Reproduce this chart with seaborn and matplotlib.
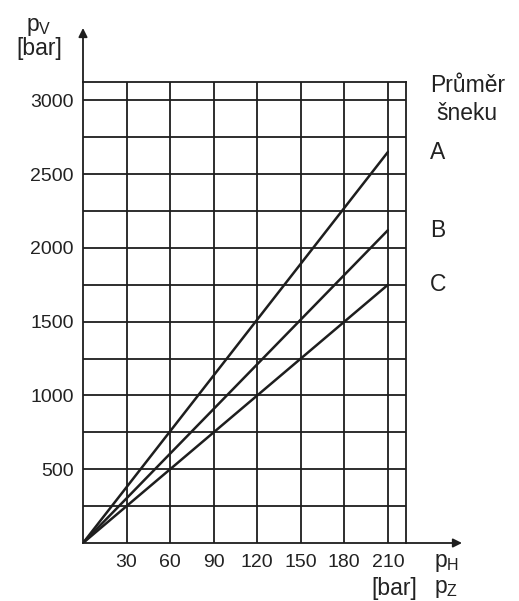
import matplotlib
matplotlib.use("Agg")
import matplotlib.pyplot as plt
import pandas as pd
import seaborn as sns

# Injection pressure p_V versus hydraulic pressure p_H for three screw diameters
p_h = [0, 210]
curve_a = [0, 2650]
curve_b = [0, 2120]
curve_c = [0, 1750]
screw_names = ["A", "B", "C"]

x_ticks = [30, 60, 90, 120, 150, 180, 210]
y_grid = [250, 500, 750, 1000, 1250, 1500, 1750, 2000, 2250, 2500, 2750, 3000]
y_labels = ["", "500", "", "1000", "", "1500", "", "2000", "", "2500", "", "3000"]

sns.set_style("white")
plt.rcParams["font.family"] = ["Liberation Sans", "DejaVu Sans"]
plt.rcParams["mathtext.fontset"] = "custom"
plt.rcParams["mathtext.rm"] = "Liberation Sans"

W, H = 519, 601
fig = plt.figure(figsize=(W / 100, H / 100), dpi=100)

# axes frame in pixel terms
x0, x1, y0, y1 = 83, 406, 543, 82
ax = fig.add_axes([x0 / W, 1 - y0 / H, (x1 - x0) / W, (y0 - y1) / H])

ink = "#1e1e1e"
df = pd.DataFrame({
    "p_H": p_h * 3,
    "p_V": curve_a + curve_b + curve_c,
    "screw": [n for n in screw_names for _ in p_h],
})
sns.lineplot(data=df, x="p_H", y="p_V", hue="screw", palette=[ink] * 3,
             legend=False, linewidth=1.8, ax=ax, zorder=3)

ax.set_xlim(0, 222.5)
ax.set_ylim(0, 3125)
ax.set_xticks(x_ticks)
ax.set_xticklabels([str(v) for v in x_ticks])
ax.set_yticks(y_grid)
ax.set_yticklabels(y_labels)
ax.grid(True, color=ink, linewidth=1.3)
ax.tick_params(length=0, labelsize=14, colors="#222222")
ax.tick_params(axis="x", pad=8)
ax.tick_params(axis="y", pad=6.5)
ax.set_xlabel("")
ax.set_ylabel("")
for sp in ax.spines.values():
    sp.set_color(ink)
    sp.set_linewidth(1.3)

# axis arrows
arrow = dict(arrowstyle="-|>", color=ink, lw=1.3, mutation_scale=13, shrinkA=0, shrinkB=0)
ax.annotate("", xy=(x0 / W, 1 - 28 / H), xytext=(x0 / W, 1 - y1 / H),
            xycoords="figure fraction", textcoords="figure fraction", arrowprops=arrow)
ax.annotate("", xy=(462 / W, 1 - y0 / H), xytext=(x1 / W, 1 - y0 / H),
            xycoords="figure fraction", textcoords="figure fraction", arrowprops=arrow)

txt = dict(color="#222222", fontsize=16.5)
fig.text(39 / W, 1 - 26 / H, r"$\mathregular{p_V}$", ha="center", va="center", **txt)
fig.text(39 / W, 1 - 49 / H, "[bar]", ha="center", va="center", **txt)
fig.text(434 / W, 1 - 562 / H, r"$\mathregular{p_H}$", ha="left", va="center", **txt)
fig.text(434 / W, 1 - 588 / H, r"$\mathregular{p_Z}$", ha="left", va="center", **txt)
fig.text(417 / W, 1 - 588 / H, "[bar]", ha="right", va="center", **txt)

fig.text(430 / W, 1 - 86 / H, "Průměr", ha="left", va="center", **txt)
fig.text(436 / W, 1 - 113 / H, "šneku", ha="left", va="center", **txt)

# curve names at the end values of each line
for name, vals in zip(screw_names, [curve_a, curve_b, curve_c]):
    ax.text(239, vals[-1], name, ha="left", va="center", clip_on=False, **txt)

fig.savefig("out.png", dpi=100)
